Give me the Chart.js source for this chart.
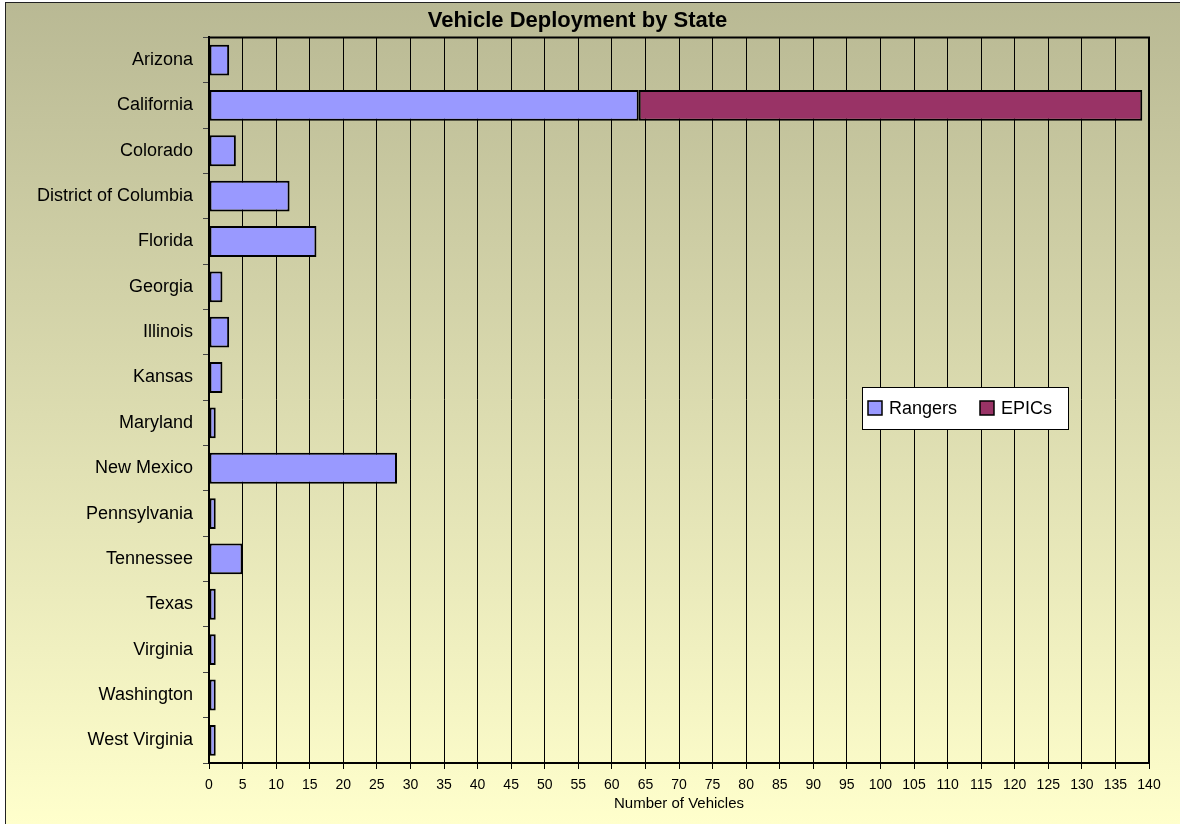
<!DOCTYPE html>
<html>
<head>
<meta charset="utf-8">
<script src="https://cdn.jsdelivr.net/npm/chart.js@4.4.0/dist/chart.umd.min.js"></script>
<style>
  html, body { margin: 0; padding: 0; background: #fff; overflow: hidden; }
  #box {
    position: absolute; left: 5px; top: 2px; width: 1175px; height: 822px;
    border-left: 1px solid #222; border-top: 1px solid #222;
    background: linear-gradient(to bottom, #b9b994 0%, #ffffcc 100%);
  }
  #myChart { display: block; }
</style>
</head>
<body>
<div id="box"><canvas id="myChart" width="1174" height="821"></canvas></div>
<script>
var states = ['Arizona', 'California', 'Colorado', 'District of Columbia', 'Florida', 'Georgia',
  'Illinois', 'Kansas', 'Maryland', 'New Mexico', 'Pennsylvania', 'Tennessee', 'Texas',
  'Virginia', 'Washington', 'West Virginia'];
var rangers = [3, 64, 4, 12, 16, 2, 3, 2, 1, 28, 1, 5, 1, 1, 1, 1];
var epics = [0, 75, 0, 0, 0, 0, 0, 0, 0, 0, 0, 0, 0, 0, 0, 0];
var seriesNames = ['Rangers', 'EPICs'];
var FONT = '"Liberation Sans", Arial, sans-serif';

// frame round the plot + the boxed legend
const frameAndLegend = {
  id: 'frameAndLegend',
  afterDraw(chart) {
    const ctx = chart.ctx;
    const a = chart.chartArea;
    ctx.save();
    ctx.strokeStyle = '#000';
    ctx.lineWidth = 2;
    ctx.beginPath();
    ctx.moveTo(a.left, a.top);
    ctx.lineTo(a.right, a.top);
    ctx.lineTo(a.right, a.bottom);
    ctx.stroke();

    // legend
    const lx = 856, ly = 384, lw = 206, lh = 42;
    ctx.fillStyle = '#fff';
    ctx.fillRect(lx, ly, lw, lh);
    ctx.lineWidth = 1;
    ctx.strokeRect(lx + 0.5, ly + 0.5, lw, lh);
    ctx.font = '18px ' + FONT;
    ctx.textBaseline = 'middle';
    const offs = [6, 118];
    chart.data.datasets.forEach(function (ds, i) {
      const x = lx + offs[i];
      const y = ly + lh / 2;
      ctx.fillStyle = ds.backgroundColor;
      ctx.fillRect(x, y - 7, 14, 14);
      ctx.strokeStyle = '#000';
      ctx.lineWidth = 1.5;
      ctx.strokeRect(x, y - 7, 14, 14);
      ctx.fillStyle = '#000';
      ctx.fillText(ds.label, x + 21, y + 1);
    });
    ctx.restore();
  }
};

const ctx = document.getElementById('myChart');
new Chart(ctx, {
  type: 'bar',
  data: {
    labels: states,
    datasets: [{
      label: seriesNames[0],
      data: rangers,
      backgroundColor: '#9999ff',
      borderColor: '#000',
      borderWidth: 2,
      borderSkipped: false,
      categoryPercentage: 0.68,
      barPercentage: 1
    }, {
      label: seriesNames[1],
      data: epics,
      backgroundColor: '#993366',
      borderColor: '#000',
      borderWidth: 2,
      borderSkipped: false,
      categoryPercentage: 0.68,
      barPercentage: 1
    }]
  },
  options: {
    indexAxis: 'y',
    responsive: false,
    animation: false,
    layout: { padding: { left: 0, right: 31, top: 0, bottom: 0 } },
    plugins: {
      legend: { display: false },
      tooltip: { enabled: false },
      title: {
        display: true,
        text: 'Vehicle Deployment by State',
        color: '#000',
        font: { family: FONT, size: 22, weight: 'bold' },
        padding: { top: 5, bottom: 3 }
      }
    },
    scales: {
      x: {
        stacked: true,
        min: 0,
        max: 140,
        ticks: {
          stepSize: 5,
          autoSkip: false,
          maxRotation: 0,
          color: '#000',
          padding: 8,
          font: { family: FONT, size: 14 }
        },
        grid: { color: '#000', lineWidth: 1, tickLength: 6 },
        border: { color: '#000', width: 2 },
        title: {
          display: true,
          text: 'Number of Vehicles',
          color: '#000',
          font: { family: FONT, size: 15 },
          padding: { top: 0, bottom: 11 }
        },
        afterFit: function (scale) { scale.height = 61; }
      },
      y: {
        stacked: true,
        ticks: {
          color: '#000',
          padding: 10,
          autoSkip: false,
          font: { family: FONT, size: 18 }
        },
        grid: { drawOnChartArea: false, color: '#444', tickLength: 6, offset: true },
        border: { color: '#000', width: 2 },
        afterFit: function (scale) { scale.width = 203; }
      }
    }
  },
  plugins: [frameAndLegend]
});
</script>
</body>
</html>
